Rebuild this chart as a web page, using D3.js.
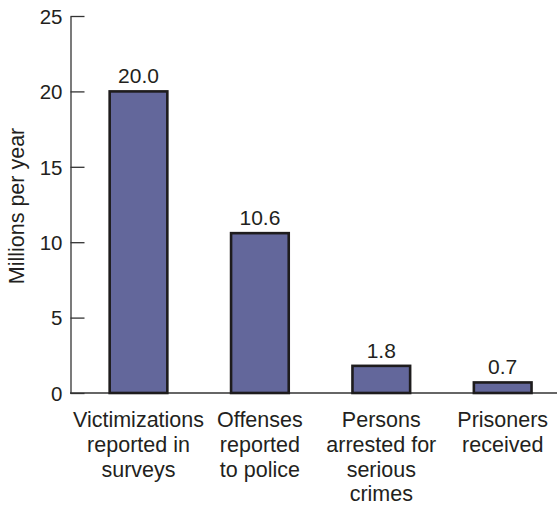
<!DOCTYPE html>
<html>
<head>
<meta charset="utf-8">
<script src="https://cdn.jsdelivr.net/npm/d3@7/dist/d3.min.js"></script>
<style>
  html, body { margin: 0; padding: 0; background: #fff; }
  svg { display: block; }
  text { font-family: "Liberation Sans", Arial, Helvetica, sans-serif; fill: #231f20; }
</style>
</head>
<body>
<svg id="chart" width="557" height="505"></svg>
<script>
// Crime funnel: victimizations down to prisoners received (millions per year)
const categories = [
  ["Victimizations", "reported in", "surveys"],
  ["Offenses", "reported", "to police"],
  ["Persons", "arrested for", "serious", "crimes"],
  ["Prisoners", "received"]
];
const values = [20.0, 10.6, 1.8, 0.7];
const yTicks = [0, 5, 10, 15, 20, 25];
const yTitle = "Millions per year";

const svg = d3.select("#chart");
const keys = categories.map((c, i) => i);

const x = d3.scaleBand()
  .domain(keys)
  .range([77.8, 563.4])
  .paddingInner(0.525)
  .paddingOuter(0.2625);

const y = d3.scaleLinear().domain([0, 25]).range([393, 16]);

// Y axis: ticks point inward toward the bars
const yAxis = svg.append("g")
  .attr("transform", "translate(70.5,0)")
  .call(d3.axisRight(y).tickValues(yTicks).tickSize(14).tickSizeOuter(0).tickFormat(d3.format("d")));
yAxis.select(".domain").attr("stroke", "#333").attr("stroke-width", 1.3);
yAxis.selectAll(".tick line").attr("stroke", "#333").attr("stroke-width", 1.3);
yAxis.selectAll(".tick text")
  .attr("x", -8)
  .attr("dy", "0.36em")
  .attr("text-anchor", "end")
  .style("font-size", "20.5px")
  .style("font-family", "'Liberation Sans', Arial, sans-serif")
  .attr("fill", "#231f20");

// Baseline
svg.append("line")
  .attr("x1", 70).attr("x2", 557)
  .attr("y1", y(0)).attr("y2", y(0))
  .attr("stroke", "#333").attr("stroke-width", 1.3);

// Bars
svg.append("g").selectAll("rect")
  .data(values)
  .join("rect")
  .attr("x", (d, i) => x(i))
  .attr("width", x.bandwidth())
  .attr("y", d => y(d))
  .attr("height", d => y(0) - y(d))
  .attr("fill", "#63679b")
  .attr("stroke", "#1e1c1d")
  .attr("stroke-width", 2.6);

// Value labels
svg.append("g").selectAll("text")
  .data(values)
  .join("text")
  .attr("x", (d, i) => x(i) + x.bandwidth() / 2)
  .attr("y", d => y(d) - 8)
  .attr("text-anchor", "middle")
  .style("font-size", "21px")
  .text(d => d3.format(".1f")(d));

// Category labels
const cat = svg.append("g").selectAll("text")
  .data(categories)
  .join("text")
  .attr("text-anchor", "middle")
  .style("font-size", "21.5px")
  .attr("transform", (d, i) => `translate(${x(i) + x.bandwidth() / 2},427)`);
cat.selectAll("tspan")
  .data(d => d)
  .join("tspan")
  .attr("x", 0)
  .attr("y", (d, j) => j * 24.8)
  .text(d => d);

// Y axis title
svg.append("text")
  .attr("transform", "translate(24,206) rotate(-90)")
  .attr("text-anchor", "middle")
  .style("font-size", "21.5px")
  .text(yTitle);
</script>
</body>
</html>
